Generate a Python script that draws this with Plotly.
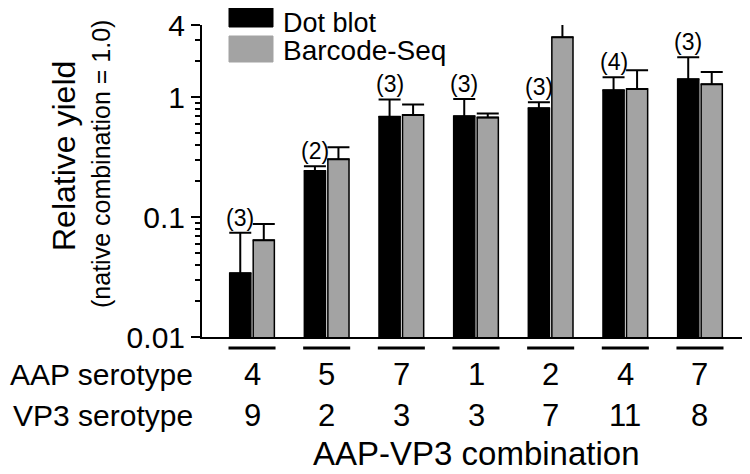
import math
import plotly.graph_objects as go

# ---------------- data ----------------
aap_serotype = ["4", "5", "7", "1", "2", "4", "7"]
vp3_serotype = ["9", "2", "3", "3", "7", "11", "8"]
n_reps = ["(3)", "(2)", "(3)", "(3)", "(3)", "(4)", "(3)"]

dot_blot = [0.034, 0.242, 0.686, 0.695, 0.81, 1.14, 1.41]
dot_blot_err = [0.040, 0.024, 0.271, 0.273, 0.098, 0.33, 0.74]

barcode_seq = [0.064, 0.304, 0.712, 0.678, 3.16, 1.17, 1.28]
barcode_seq_err = [0.0235, 0.079, 0.157, 0.053, 1.06, 0.51, 0.34]

y_tickvals = [0.01, 0.1, 1, 4]
y_ticktext = ["0.01", "0.1", "1", "4"]
y_minor = [0.02, 0.03, 0.04, 0.05, 0.06, 0.07, 0.08, 0.09,
           0.2, 0.3, 0.4, 0.5, 0.6, 0.7, 0.8, 0.9, 2, 3]

# ---------------- layout geometry ----------------
# the page body adds an 8 px offset; the figure is sized to fit the window
OFF = 8
W, H = 742, 466
L, R, T, B = 194, 0, 17, 137
PW, PH = W - L - R, H - T - B
FONT = "Liberation Sans, Arial, Helvetica, sans-serif"
GRAY = "#a3a3a3"

def px(page_x):
    return (page_x - OFF - L) / PW

def py(page_y):
    return (H - B - (page_y - OFF)) / PH

xs = list(range(len(aap_serotype)))
GROUP_W = 0.63

fig = go.Figure()
fig.add_trace(go.Bar(
    x=xs, y=dot_blot, name="Dot blot",
    marker=dict(color="black", line=dict(color="black", width=1.5)),
    error_y=dict(type="data", array=dot_blot_err, arrayminus=[0] * len(xs),
                 symmetric=False, color="black", thickness=2, width=11),
))
fig.add_trace(go.Bar(
    x=xs, y=barcode_seq, name="Barcode-Seq",
    marker=dict(color=GRAY, line=dict(color="black", width=1.5)),
    error_y=dict(type="data", array=barcode_seq_err, arrayminus=[0] * len(xs),
                 symmetric=False, color="black", thickness=2, width=11),
))

annotations = []
shapes = []

# replicate counts above the dot blot bars
for i, (v, e, t) in enumerate(zip(dot_blot, dot_blot_err, n_reps)):
    annotations.append(dict(
        x=i - GROUP_W / 4, y=math.log10(v + e), xref="x", yref="y",
        text=t, showarrow=False, yanchor="bottom", yshift=0,
        font=dict(size=23, color="black", family=FONT)))

# group underlines and category rows
for i in xs:
    shapes.append(dict(type="line", xref="x", yref="paper",
                       x0=i - GROUP_W / 2, x1=i + GROUP_W / 2,
                       y0=py(348), y1=py(348),
                       line=dict(color="black", width=3)))
    annotations.append(dict(x=i, y=py(374), xref="x", yref="paper",
                            text=aap_serotype[i], showarrow=False,
                            yanchor="middle",
                            font=dict(size=31, color="black", family=FONT)))
    annotations.append(dict(x=i, y=py(415), xref="x", yref="paper",
                            text=vp3_serotype[i], showarrow=False,
                            yanchor="middle",
                            font=dict(size=31, color="black", family=FONT)))

annotations += [
    dict(x=px(195), y=py(374), xref="paper", yref="paper", text="AAP serotype",
         showarrow=False, xanchor="right", yanchor="middle",
         font=dict(size=30, color="black", family=FONT)),
    dict(x=px(195), y=py(415), xref="paper", yref="paper", text="VP3 serotype",
         showarrow=False, xanchor="right", yanchor="middle",
         font=dict(size=30, color="black", family=FONT)),
    dict(x=px(476), y=py(453), xref="paper", yref="paper", text="AAP-VP3 combination",
         showarrow=False, xanchor="center", yanchor="middle",
         font=dict(size=33, color="black", family=FONT)),
    dict(x=px(64), y=py(156), xref="paper", yref="paper", text="Relative yield",
         showarrow=False, textangle=-90, xanchor="center", yanchor="middle",
         font=dict(size=32, color="black", family=FONT)),
    dict(x=px(101), y=py(164), xref="paper", yref="paper",
         text="(native combination = 1.0)",
         showarrow=False, textangle=-90, xanchor="center", yanchor="middle",
         font=dict(size=25, color="black", family=FONT)),
    # legend texts
    dict(x=px(281), y=py(23), xref="paper", yref="paper", text="Dot blot",
         showarrow=False, xanchor="left", yanchor="middle",
         font=dict(size=27, color="black", family=FONT)),
    dict(x=px(281), y=py(50), xref="paper", yref="paper", text="Barcode-Seq",
         showarrow=False, xanchor="left", yanchor="middle",
         font=dict(size=28, color="black", family=FONT)),
]

# legend swatches
shapes += [
    dict(type="rect", xref="paper", yref="paper",
         x0=px(229), x1=px(273), y0=py(0), y1=py(27),
         fillcolor="black", line=dict(color="black", width=1)),
    dict(type="rect", xref="paper", yref="paper",
         x0=px(229), x1=px(273), y0=py(36), y1=py(62),
         fillcolor=GRAY, line=dict(color=GRAY, width=1)),
]

fig.update_layout(
    width=W, height=H,
    margin=dict(l=L, r=R, t=T, b=B, pad=0, autoexpand=False),
    paper_bgcolor="white", plot_bgcolor="white",
    barmode="group", bargap=1 - GROUP_W, bargroupgap=0.1,
    showlegend=False,
    font=dict(family=FONT, color="black"),
    annotations=annotations, shapes=shapes,
    xaxis=dict(range=[-0.67, 6.67], showticklabels=False, ticks="",
               showline=True, linecolor="black", linewidth=2,
               showgrid=False, zeroline=False, fixedrange=True),
    yaxis=dict(type="log", range=[-2, math.log10(4)],
               tickvals=y_tickvals, ticktext=y_ticktext,
               ticks="outside", ticklen=9, tickwidth=2, tickcolor="black",
               tickfont=dict(size=30, color="black", family=FONT),
               showline=True, linecolor="black", linewidth=2,
               showgrid=False, zeroline=False,
               minor=dict(tickvals=y_minor, ticks="outside", ticklen=5,
                          tickwidth=1.5, tickcolor="black", showgrid=False)),
)

fig.write_html("out.html")
